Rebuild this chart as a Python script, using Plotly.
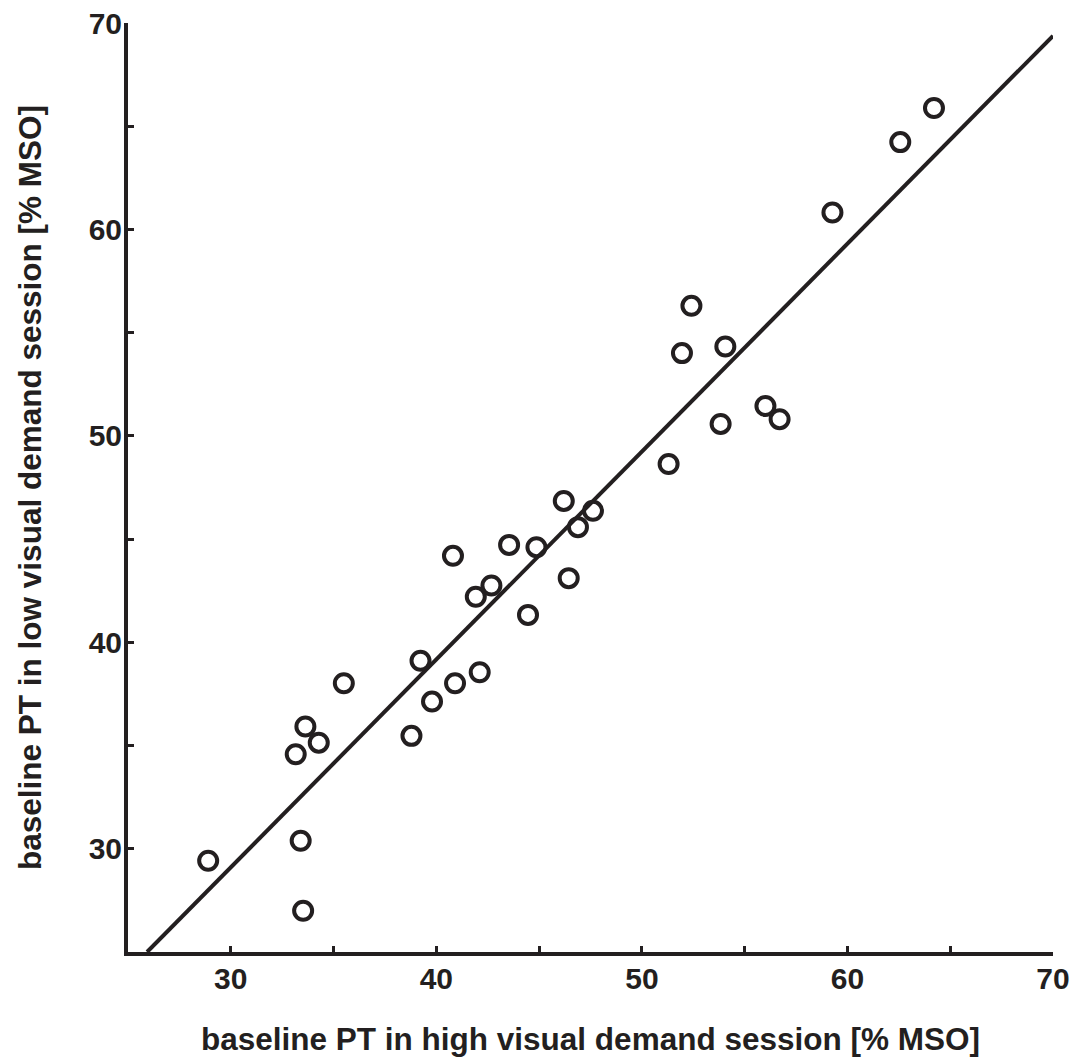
import plotly.graph_objects as go

# data
high_demand = [28.90, 33.40, 33.52, 33.16, 33.63, 34.28, 35.50, 38.79, 39.23, 39.79,
               40.91, 42.11, 40.81, 41.92, 42.68, 43.54, 44.87, 44.46, 46.20, 46.44,
               46.89, 47.62, 51.30, 51.95, 52.41, 54.06, 53.83, 56.01, 56.70, 59.27,
               62.57, 64.21]
low_demand = [29.42, 30.39, 27.00, 34.58, 35.92, 35.14, 38.02, 35.47, 39.11, 37.13,
              38.02, 38.55, 44.19, 42.21, 42.75, 44.72, 44.61, 41.33, 46.85, 43.11,
              45.58, 46.37, 48.64, 54.01, 56.30, 54.33, 50.58, 51.45, 50.81, 60.82,
              64.23, 65.88]

fit_slope = 1.007
fit_intercept = -1.11

axis_min = 25
axis_max = 70
tick_labels = [30, 40, 50, 60, 70]

ink = "#231f20"
font_family = "Liberation Sans, Arial, sans-serif"

fit_x = [(axis_min - fit_intercept) / fit_slope, axis_max]
fit_y = [fit_slope * v + fit_intercept for v in fit_x]

fig = go.Figure()
fig.add_trace(go.Scatter(
    x=fit_x, y=fit_y, mode="lines",
    line=dict(color=ink, width=4), hoverinfo="skip", showlegend=False,
))
fig.add_trace(go.Scatter(
    x=high_demand, y=low_demand, mode="markers",
    marker=dict(symbol="circle-open", size=18, color=ink, line=dict(color=ink, width=4)),
    showlegend=False,
))

axis_common = dict(
    range=[axis_min, axis_max],
    tickvals=tick_labels,
    ticktext=[str(v) for v in tick_labels],
    ticks="inside", ticklen=6, tickwidth=3, tickcolor=ink,
    minor=dict(dtick=5, tick0=0, ticks="inside", ticklen=6, tickwidth=3, tickcolor=ink),
    showline=True, linecolor=ink, linewidth=4,
    showgrid=False, zeroline=False,
    tickfont=dict(family=font_family, size=30, color=ink, weight="bold"),
    title_font=dict(family=font_family, size=31.5, color=ink, weight="bold"),
    fixedrange=True,
)

fig.update_xaxes(**axis_common,
                 title_text="baseline PT in high visual demand session [% MSO]",
                 title_standoff=38, ticklabelstandoff=-3)
fig.update_yaxes(**axis_common,
                 title_text="baseline PT in low visual demand session [% MSO]",
                 title_standoff=39, ticklabelstandoff=-4)

fig.update_layout(
    width=1085, height=1057,
    margin=dict(l=128, r=32, t=23, b=105, autoexpand=False),
    paper_bgcolor="white", plot_bgcolor="white",
    font=dict(family=font_family, color=ink),
)

fig.write_html("out.html", config={"displayModeBar": False})
